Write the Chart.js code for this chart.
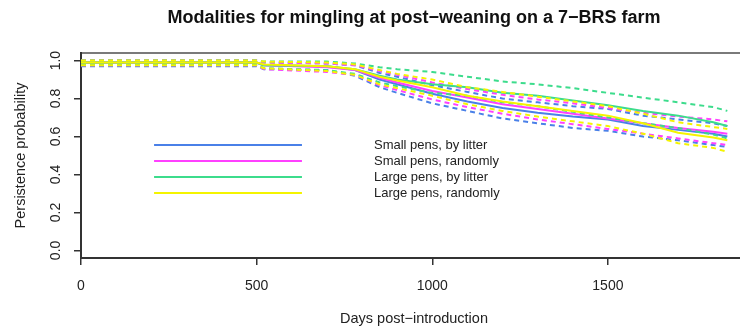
<!DOCTYPE html>
<html>
<head>
<meta charset="utf-8">
<script src="https://cdn.jsdelivr.net/npm/chart.js@4"></script>
<style>
html, body { margin:0; padding:0; background:#fff; overflow:hidden; width:740px; height:330px; }
canvas { display:block; }
</style>
</head>
<body>
<canvas id="chart" width="760" height="330"></canvas>
<script>
// days post-introduction where the survival curves were read
const days = [0, 500, 520, 700, 780, 850, 900, 1000, 1100, 1200, 1300, 1400, 1500, 1600, 1700, 1800, 1840];

const seriesNames = ["Small pens, by litter", "Small pens, randomly", "Large pens, by litter", "Large pens, randomly"];
const seriesColors = ["#4a80e8", "#ff40ff", "#3cdc8c", "#f4f400"];

const smallLitter   = [0.99, 0.99, 0.975, 0.97, 0.95, 0.90, 0.875, 0.825, 0.785, 0.75, 0.725, 0.705, 0.69, 0.655, 0.635, 0.615, 0.60];
const smallLitterHi = [1.0, 1.0, 0.99, 0.985, 0.975, 0.935, 0.915, 0.87, 0.835, 0.80, 0.78, 0.76, 0.745, 0.71, 0.69, 0.67, 0.655];
const smallLitterLo = [0.97, 0.97, 0.955, 0.95, 0.92, 0.86, 0.83, 0.775, 0.735, 0.695, 0.67, 0.645, 0.63, 0.60, 0.58, 0.555, 0.545];

const smallRandom   = [0.99, 0.99, 0.975, 0.965, 0.95, 0.91, 0.885, 0.84, 0.805, 0.77, 0.745, 0.72, 0.695, 0.67, 0.645, 0.625, 0.615];
const smallRandomHi = [1.0, 1.0, 0.99, 0.985, 0.975, 0.945, 0.925, 0.885, 0.85, 0.82, 0.795, 0.775, 0.75, 0.725, 0.705, 0.69, 0.68];
const smallRandomLo = [0.975, 0.975, 0.955, 0.94, 0.925, 0.87, 0.845, 0.795, 0.755, 0.72, 0.69, 0.665, 0.64, 0.615, 0.59, 0.565, 0.555];

const largeLitter   = [0.99, 0.99, 0.975, 0.97, 0.955, 0.92, 0.90, 0.875, 0.86, 0.83, 0.815, 0.79, 0.765, 0.735, 0.71, 0.675, 0.655];
const largeLitterHi = [1.0, 1.0, 0.995, 0.995, 0.985, 0.965, 0.955, 0.94, 0.915, 0.89, 0.875, 0.855, 0.83, 0.805, 0.78, 0.755, 0.735];
const largeLitterLo = [0.98, 0.98, 0.96, 0.95, 0.93, 0.885, 0.865, 0.83, 0.815, 0.78, 0.76, 0.73, 0.70, 0.67, 0.645, 0.61, 0.59];

const largeRandom   = [0.99, 0.99, 0.98, 0.97, 0.955, 0.915, 0.895, 0.86, 0.815, 0.785, 0.76, 0.735, 0.71, 0.67, 0.62, 0.595, 0.58];
const largeRandomHi = [1.0, 1.0, 0.995, 0.99, 0.98, 0.95, 0.93, 0.90, 0.86, 0.835, 0.81, 0.785, 0.76, 0.72, 0.675, 0.65, 0.64];
const largeRandomLo = [0.975, 0.975, 0.96, 0.945, 0.925, 0.875, 0.855, 0.815, 0.77, 0.735, 0.705, 0.68, 0.655, 0.615, 0.565, 0.54, 0.52];

const xTicks = [0, 500, 1000, 1500];
const yTicks = [0, 0.2, 0.4, 0.6, 0.8, 1.0];

// legend placement, in data units (like R's legend(x, y))
const legendLineFrom = 208, legendLineTo = 629, legendTextAt = 834, legendTop = 0.555;

Chart.defaults.font.family = "'Liberation Sans', Arial, sans-serif";

function line(vals, color, dashed){
  return {
    data: days.map((d, i) => ({x: d, y: vals[i]})),
    borderColor: color,
    borderWidth: 2,
    borderDash: dashed ? [5, 4] : [],
    pointRadius: 0,
    tension: 0,
    fill: false
  };
}

const groups = [
  [smallLitter, smallLitterLo, smallLitterHi],
  [smallRandom, smallRandomLo, smallRandomHi],
  [largeLitter, largeLitterLo, largeLitterHi],
  [largeRandom, largeRandomLo, largeRandomHi]
];
const datasets = [];
groups.forEach((g, i) => {
  datasets.push(line(g[0], seriesColors[i], false));
  datasets.push(line(g[1], seriesColors[i], true));
  datasets.push(line(g[2], seriesColors[i], true));
});
datasets.reverse(); // last group on top, like R's drawing order

const insetLegend = {
  id: "insetLegend",
  afterDatasetsDraw(chart){
    const {ctx, scales} = chart;
    const x0 = scales.x.getPixelForValue(legendLineFrom);
    const x1 = scales.x.getPixelForValue(legendLineTo);
    const xt = scales.x.getPixelForValue(legendTextAt);
    const y0 = scales.y.getPixelForValue(legendTop);
    ctx.save();
    ctx.font = "13px 'Liberation Sans', Arial, sans-serif";
    ctx.textBaseline = "middle";
    seriesNames.forEach((name, i) => {
      const yy = y0 + i * 16;
      ctx.strokeStyle = seriesColors[i];
      ctx.lineWidth = 2;
      ctx.beginPath();
      ctx.moveTo(x0, yy);
      ctx.lineTo(x1, yy);
      ctx.stroke();
      ctx.fillStyle = "#222";
      ctx.fillText(name, xt, yy);
    });
    ctx.restore();
  }
};

new Chart(document.getElementById("chart"), {
  type: "line",
  data: {datasets},
  plugins: [insetLegend],
  options: {
    responsive: false,
    animation: false,
    layout: {padding: {left: 0, right: 13, top: 0, bottom: 0}},
    plugins: {legend: {display: false}, tooltip: {enabled: false}},
    scales: {
      x: {
        type: "linear", position: "bottom", min: 0, max: 1896,
        afterBuildTicks: s => { s.ticks = xTicks.map(v => ({value: v})); },
        ticks: {color: "#222", font: {size: 14}, padding: 13, maxRotation: 0, autoSkip: false,
          callback: v => String(v)},
        grid: {drawOnChartArea: false, color: "#333", lineWidth: 1.5, tickLength: 7},
        border: {color: "#333", width: 2},
        title: {display: true, text: "Days post\u2212introduction", color: "#222", font: {size: 14.5}, padding: {top: 0, bottom: 2}},
        afterFit: s => { s.height = 72; }
      },
      top: {
        type: "linear", position: "top",
        ticks: {display: false},
        grid: {display: false},
        border: {color: "#7a7a7a", width: 2},
        title: {display: true, text: "Modalities for mingling at post\u2212weaning on a 7\u2212BRS farm", color: "#111", font: {size: 18, weight: "bold"}, padding: {top: 7, bottom: 0}},
        afterFit: s => { s.height = 53; }
      },
      y: {
        type: "linear", position: "left", min: -0.04, max: 1.04,
        afterBuildTicks: s => { s.ticks = yTicks.map(v => ({value: v})); },
        ticks: {color: "#222", font: {size: 14}, padding: 8, minRotation: 90, maxRotation: 90, crossAlign: "center",
          callback: v => v.toFixed(1)},
        grid: {drawOnChartArea: false, color: "#333", lineWidth: 1.5, tickLength: 7},
        border: {color: "#333", width: 2},
        title: {display: true, text: "Persistence probability", color: "#222", font: {size: 14.5}, padding: {top: 12, bottom: 0}},
        afterFit: s => { s.width = 81; }
      }
    }
  }
});
</script>
</body>
</html>
